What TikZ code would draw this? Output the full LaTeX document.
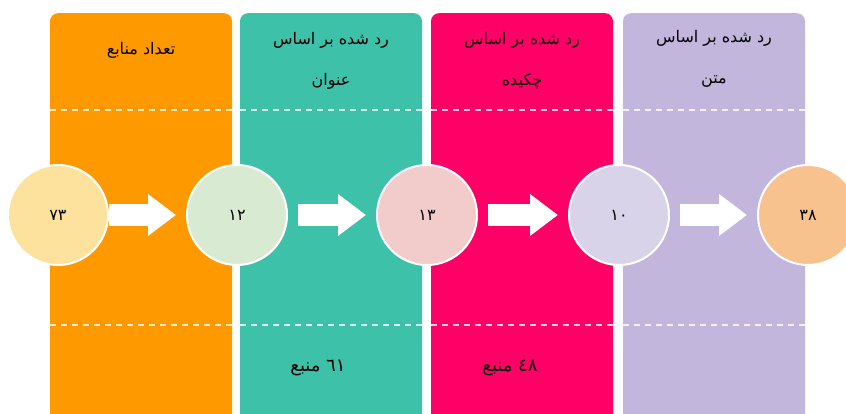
\documentclass[tikz,border=0pt]{standalone}
\usepackage{fontspec}
\usetikzlibrary{arrows.meta,positioning}
\newfontfamily\arabicfont[Script=Arabic]{DejaVu Sans}
\TeXXeTstate=1
\definecolor{panelA}{HTML}{FF9900}
\definecolor{panelB}{HTML}{3EC1A9}
\definecolor{panelC}{HTML}{FF0066}
\definecolor{panelD}{HTML}{C2B6DD}
\definecolor{dotA}{HTML}{FCE29D}
\definecolor{dotB}{HTML}{D9EAD3}
\definecolor{dotC}{HTML}{F2CBCB}
\definecolor{dotD}{HTML}{D9D3EA}
\definecolor{dotE}{HTML}{F7C28E}

\begin{document}
\begin{tikzpicture}[x=1pt,y=-1pt,
  panel/.style={rounded corners=8pt,minimum width=182pt,minimum height=430pt,inner sep=0pt,anchor=north},
  stage/.style={circle,draw=white,line width=2pt,minimum size=100pt,inner sep=0pt,font=\arabicfont\fontsize{16}{18}\selectfont},
  caption/.style={font=\arabicfont\fontsize{16}{41}\selectfont,align=center},
  tally/.style={font=\arabicfont\fontsize{18}{20}\selectfont},
  sep/.style={white,opacity=0.8,dash pattern=on 6pt off 5pt,line width=1.6pt},
  flow/.style={white,line width=22pt,-{Triangle[length=28pt,width=40pt]}}]
\useasboundingbox (0,0) rectangle (846,414);
\clip (0,0) rectangle (846,414);
% columns
\node[panel,fill=panelA] (p1) at (141,13) {};
\node[panel,fill=panelB] (p2) at (331,13) {};
\node[panel,fill=panelC] (p3) at (522,13) {};
\node[panel,fill=panelD] (p4) at (714,13) {};
\coordinate (upper) at (0,110);
\coordinate (lower) at (0,325);
\foreach \p in {p1,p2,p3,p4} {
  \draw[sep] (\p.west |- upper) -- (\p.east |- upper);
  \draw[sep] (\p.west |- lower) -- (\p.east |- lower);
}
% headings
\node[caption] (h1) at (141,50) {\beginR تعداد منابع\endR};
\node[caption] (h2) at (331,61) {\beginR رد شده بر اساس\endR\\\beginR عنوان\endR};
\node[caption] (h3) at (522,61) {\beginR رد شده بر اساس\endR\\\beginR چکیده\endR};
\node[caption] (h4) at (714,59) {\beginR رد شده بر اساس\endR\\\beginR متن\endR};
\node[tally] (n2) at (318,368) {\beginR\beginL ٦١\endL{} منبع\endR};
\node[tally] (n3) at (510,368) {\beginR\beginL ٤٨\endL{} منبع\endR};
% counts
\node[stage,fill=dotA] (s1) at (58,215) {۷۳};
\node[stage,fill=dotB] (s2) at (237,215) {۱۲};
\node[stage,fill=dotC] (s3) at (427,215) {۱۳};
\node[stage,fill=dotD] (s4) at (619,215) {۱۰};
\node[stage,fill=dotE] (s5) at (808,215) {۳۸};
\draw[flow,shorten >=10pt] (s1) -- (s2);
\draw[flow,shorten <=10pt,shorten >=10pt] (s2) -- (s3);
\draw[flow,shorten <=10pt,shorten >=10pt] (s3) -- (s4);
\draw[flow,shorten <=10pt,shorten >=10pt] (s4) -- (s5);
\end{tikzpicture}
\end{document}
